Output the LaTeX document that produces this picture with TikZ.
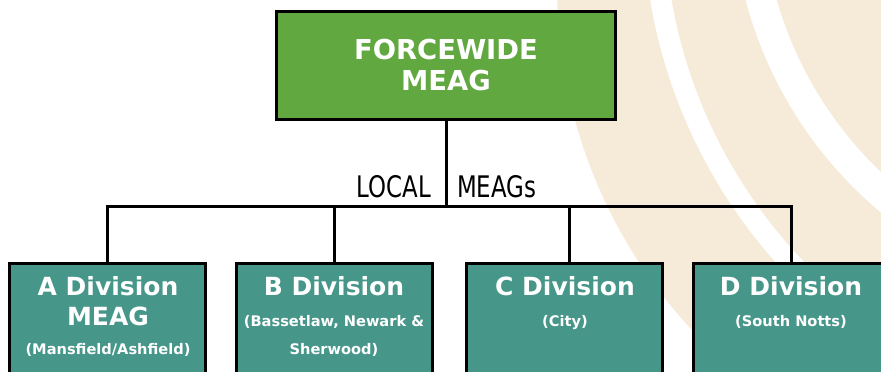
\documentclass[tikz,border=0pt]{standalone}
\usepackage{fontspec}
\setmainfont{DejaVu Sans}
\newfontfamily\narrowfont[FakeStretch=0.77]{DejaVu Sans}
\definecolor{forcegreen}{RGB}{98,168,64}
\definecolor{divteal}{RGB}{70,150,138}
\definecolor{swirl}{RGB}{245,235,216}

\begin{document}
\begin{tikzpicture}[x=1pt,y=-1pt,
every node/.append style={inner sep=0pt},
headbox/.style={draw=black,line width=3pt,fill=forcegreen,minimum width=339pt,minimum height=108pt,
  text=white,align=center,font={\fontsize{27.4}{31}\selectfont\bfseries}},
divbox/.style={draw=black,line width=3pt,fill=divteal,minimum width=196pt,minimum height=140pt,anchor=north},
divtitle/.style={anchor=base,text=white,font={\fontsize{25}{29}\selectfont\bfseries}},
divsub/.style={anchor=base,text=white,font={\fontsize{14.6}{28}\selectfont\bfseries}},
bus/.style={anchor=base,font={\narrowfont\fontsize{29.7}{32}\selectfont}},
link/.style={line width=3pt},
]
\useasboundingbox (0,0) rectangle (881,372);

% background swirl
\begin{scope}
\clip (0,0) rectangle (881,372);
\fill[swirl] (1063,-14) circle[radius=506];
\draw[white,line width=21] (1169,-87) circle[radius=515.5];
\draw[white,line width=30] (1147,-106) circle[radius=400];
\end{scope}

\node[headbox] (force) at (446,65.5) {FORCEWIDE\\MEAG};

\begin{scope}
\clip (0,0) rectangle (881,372);
\node[divbox] (Abox) at (107.5,262) {};
\node[divbox] (Bbox) at (334,262) {};
\node[divbox] (Cbox) at (564,262) {};
\node[divbox] (Dbox) at (791.5,262) {};
\end{scope}

\node[divtitle] (Atitle) at (108,295) {A Division};
\node[divtitle] (Ameag) at (108,325) {MEAG};
\node[divsub] (Asub) at (108,354) {(Mansfield/Ashfield)};
\node[divtitle] (Btitle) at (334,295) {B Division};
\node[divsub] (Bsub) at (334,326) {(Bassetlaw, Newark \&};
\node[divsub] (Bsubb) at (334,354) {Sherwood)};
\node[divtitle] (Ctitle) at (565,295) {C Division};
\node[divsub] (Csub) at (565,326) {(City)};
\node[divtitle] (Dtitle) at (791,295) {D Division};
\node[divsub] (Dsub) at (791,326) {(South Notts)};

\coordinate (split) at (446,206);
\node[bus,anchor=base east] (local) at (431,197) {LOCAL};
\node[bus,anchor=base west] (meags) at (457,197) {MEAGs};

\draw[link] (force.south) -- (split);
\draw[link] (Abox.north) |- (split) -| (Dbox.north);
\draw[link] (Bbox.north) -- (Bbox.north |- split);
\draw[link] ([xshift=5pt]Cbox.north) -- ([xshift=5pt]Cbox.north |- split);

\end{tikzpicture}
\end{document}
